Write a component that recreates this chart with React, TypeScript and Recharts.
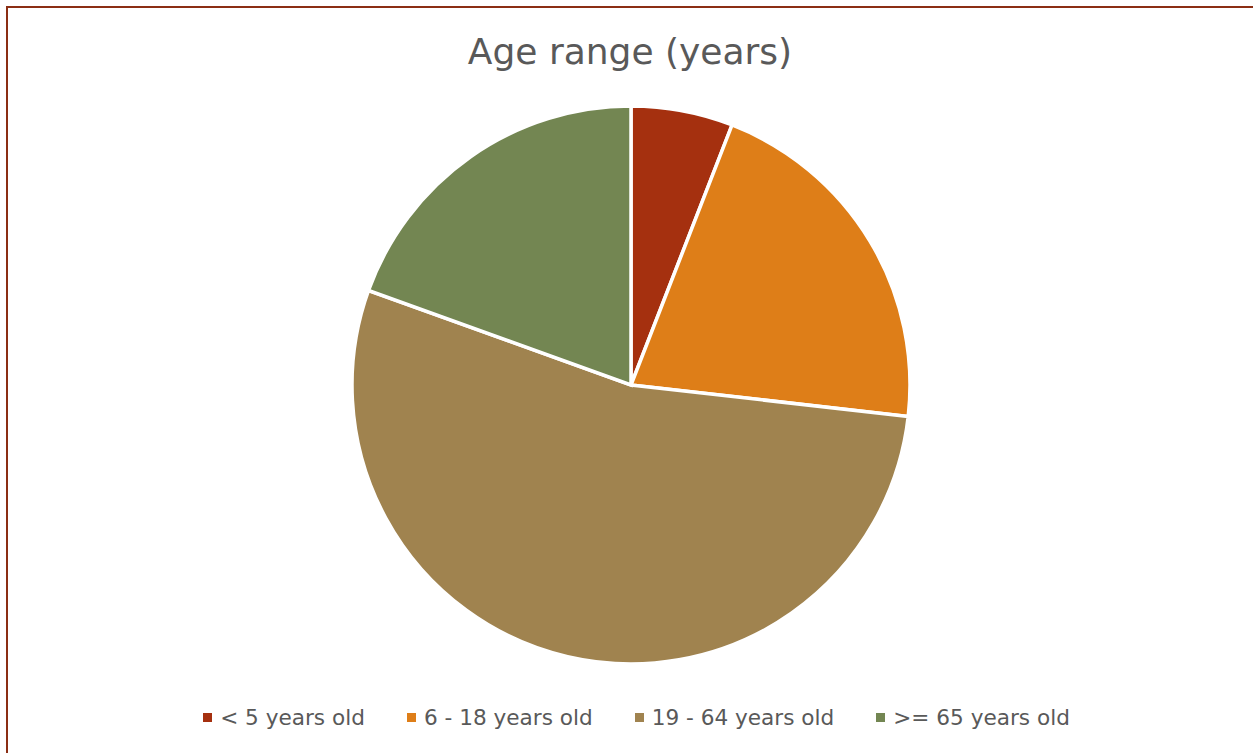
import { PieChart, Pie, Cell, Legend } from 'recharts';

const categories = ['< 5 years old', '6 - 18 years old', '19 - 64 years old', '>= 65 years old'];
const shares = [5.9, 20.9, 53.7, 19.5];
const colors = ['#A5300F', '#DE7E18', '#A0834F', '#738652'];

const data = categories.map((name, i) => ({ name, value: shares[i] }));

const FONT = '"DejaVu Sans", sans-serif';

const renderLegend = () => (
  <div style={{ display: 'flex', justifyContent: 'center', fontFamily: FONT, fontSize: 21.6, color: '#595959' }}>
    {categories.map((c, i) => (
      <div key={c} style={{ display: 'flex', alignItems: 'center', margin: '0 21px' }}>
        <span style={{ width: 9, height: 9, background: colors[i], display: 'inline-block', marginRight: 8 }} />
        <span>{c}</span>
      </div>
    ))}
  </div>
);

export default function App() {
  return (
    <div style={{ position: 'absolute', left: 0, top: 0, width: 1253, height: 753, background: '#fff', overflow: 'hidden' }}>
      <div
        style={{
          position: 'absolute', left: 6, top: 6, width: 1300, height: 800,
          borderLeft: '2px solid #8B2E14', borderTop: '2px solid #8B2E14',
        }}
      />
      <div
        style={{
          position: 'absolute', left: 0, top: 31, width: 1260, textAlign: 'center',
          fontFamily: FONT, fontSize: 36, color: '#595959',
        }}
      >
        Age range (years)
      </div>
      <div style={{ position: 'absolute', left: 0, top: 0 }}>
        <PieChart width={1273} height={753} margin={{ top: 0, right: 0, bottom: 0, left: 0 }}>
          <Pie
            data={data}
            dataKey="value"
            nameKey="name"
            cx={631}
            cy={385}
            outerRadius={279}
            startAngle={90}
            endAngle={-270}
            stroke="#fff"
            strokeWidth={3.5}
            isAnimationActive={false}
          >
            {data.map((d, i) => (
              <Cell key={d.name} fill={colors[i]} />
            ))}
          </Pie>
          <Legend content={renderLegend} verticalAlign="bottom" wrapperStyle={{ top: 705, left: 0, width: 1273 }} />
        </PieChart>
      </div>
    </div>
  );
}
